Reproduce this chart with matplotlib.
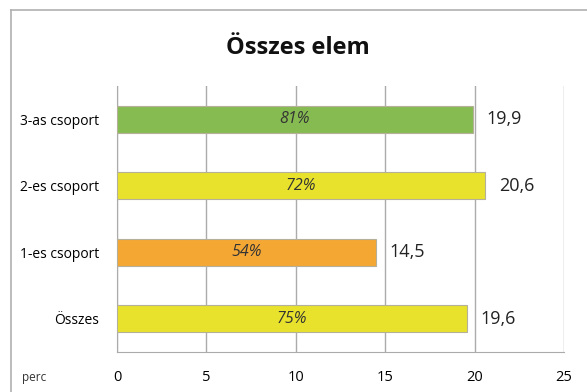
import matplotlib.pyplot as plt
from matplotlib.lines import Line2D

plt.rcParams['font.family'] = ['Open Sans', 'DejaVu Sans']

groups = ['Összes', '1-es csoport', '2-es csoport', '3-as csoport']
minutes = [19.6, 14.5, 20.6, 19.9]
percents = [75, 54, 72, 81]
colors = ['#e8e22c', '#f5a733', '#e8e22c', '#86bb52']

fig = plt.figure(figsize=(5.87, 3.92), dpi=100)
ax = fig.add_axes([0.1993, 0.102, 0.7615, 0.6786])

pos = range(len(groups))
bars = ax.barh(pos, minutes, height=0.4, color=colors,
               edgecolor='#b5b09a', linewidth=0.8, zorder=3)

for b, m, p in zip(bars, minutes, percents):
    y = b.get_y() + b.get_height() / 2
    ax.text(m / 2, y, f'{p}%', ha='center', va='center', style='italic',
            fontsize=11.5, color='#333333', zorder=4)
    ax.text(m + 0.75, y, f'{m:.1f}'.replace('.', ','), ha='left', va='center',
            fontsize=13, color='#222222')

ax.set_xlim(0, 25)
ax.set_ylim(-0.5, 3.5)
ax.set_xticks([0, 5, 10, 15, 20, 25])
ax.set_yticks(list(pos))
ax.set_yticklabels(groups, fontsize=10)
ax.tick_params(axis='x', labelsize=10.5, length=0, pad=13)
ax.tick_params(axis='y', length=0, pad=13)
ax.grid(axis='x', color='#ababab', linewidth=1, zorder=0)
for s in ['top', 'right']:
    ax.spines[s].set_visible(False)
ax.spines['left'].set_color('#ababab')
ax.spines['bottom'].set_color('#ababab')

fig.text(0.507, 0.878, 'Összes elem', ha='center', va='center',
         fontsize=17, fontweight='bold', color='#111111')
fig.text(0.058, 0.036, 'perc', ha='center', va='center', fontsize=8.5,
         color='#333333')

# outer chart frame
fig.add_artist(Line2D([0.018, 0.018], [0, 0.974], color='#b0b0b0', lw=1.2))
fig.add_artist(Line2D([0.018, 1], [0.974, 0.974], color='#b0b0b0', lw=1.2))

fig.savefig('out.png', dpi=100)
